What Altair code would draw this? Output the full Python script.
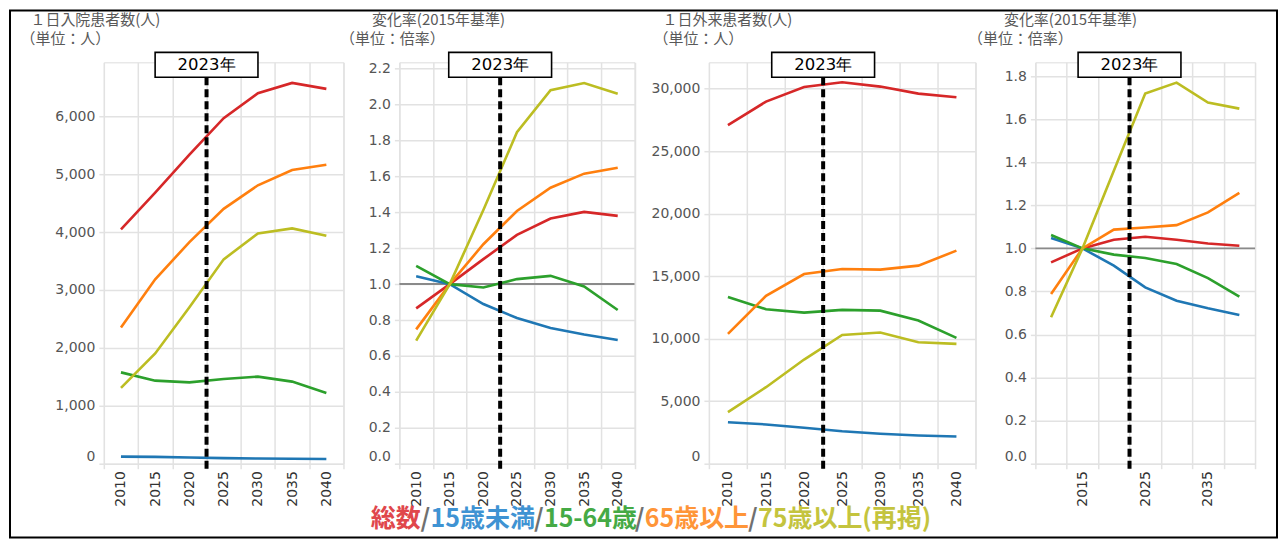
import altair as alt
import pandas as pd

# ---------------- data ----------------
years = [2010, 2015, 2020, 2025, 2030, 2035, 2040]
series_names = ["総数", "15歳未満", "15-64歳", "65歳以上", "75歳以上(再掲)"]
line_colors = ["#d62728", "#1f77b4", "#2ca02c", "#ff7f0e", "#bcbd22"]
legend_colors = ["#e0474c", "#3f93d3", "#45aa45", "#ff9538", "#c4c43e"]
legend_sep = "/"
legend_sep_color = "#707070"

# 1日入院患者数(人)
inp_total = [4045, 4680, 5336, 5966, 6396, 6575, 6472]
inp_u15 = [123, 118, 106, 96, 90, 85, 81]
inp_15_64 = [1577, 1434, 1405, 1463, 1503, 1417, 1222]
inp_65 = [2351, 3184, 3826, 4400, 4807, 5071, 5163]
inp_75 = [1308, 1904, 2700, 3528, 3976, 4062, 3935]

# 変化率(2015年基準) 入院
inp_r_total = [0.865, 1.0, 1.139, 1.274, 1.365, 1.402, 1.380]
inp_r_u15 = [1.044, 1.0, 0.889, 0.811, 0.756, 0.719, 0.689]
inp_r_15_64 = [1.102, 1.0, 0.981, 1.028, 1.046, 0.987, 0.856]
inp_r_65 = [0.748, 1.0, 1.222, 1.407, 1.537, 1.615, 1.648]
inp_r_75 = [0.685, 1.0, 1.413, 1.846, 2.080, 2.120, 2.060]

# 1日外来患者数(人)
out_total = [27070, 28960, 30130, 30510, 30160, 29600, 29310]
out_u15 = [3320, 3140, 2870, 2600, 2400, 2260, 2180]
out_15_64 = [13340, 12350, 12080, 12300, 12240, 11450, 10060]
out_65 = [10380, 13420, 15170, 15570, 15520, 15840, 17040]
out_75 = [4120, 6120, 8330, 10300, 10490, 9710, 9580]

# 変化率(2015年基準) 外来
out_r_total = [0.935, 1.0, 1.040, 1.054, 1.040, 1.023, 1.012]
out_r_u15 = [1.048, 1.0, 0.920, 0.819, 0.757, 0.722, 0.691]
out_r_15_64 = [1.062, 1.0, 0.971, 0.955, 0.927, 0.862, 0.776]
out_r_65 = [0.788, 1.0, 1.087, 1.097, 1.108, 1.167, 1.258]
out_r_75 = [0.680, 1.0, 1.360, 1.719, 1.770, 1.677, 1.649]

# axes
ticks_inp = [0, 1000, 2000, 3000, 4000, 5000, 6000]
ticks_out = [0, 5000, 10000, 15000, 20000, 25000, 30000]
ticks_r_inp = [0.0, 0.2, 0.4, 0.6, 0.8, 1.0, 1.2, 1.4, 1.6, 1.8, 2.0, 2.2]
ticks_r_out = [0.0, 0.2, 0.4, 0.6, 0.8, 1.0, 1.2, 1.4, 1.6, 1.8]
labels_full = years
labels_thin = [2015, 2025, 2035]
ref_value = 1.0
marker_x = 2022.5
marker_label = "2023年"

titles = ["１日入院患者数(人)", "変化率(2015年基準)", "１日外来患者数(人)", "変化率(2015年基準)"]
subtitles = ["（単位：人）", "（単位：倍率）", "（単位：人）", "（単位：倍率）"]

# ---------------- style / layout ----------------
GRID = "#e2e2e2"
TFONT = "Noto Sans CJK JP"
NFONT = "DejaVu Sans"
TFS = 15
H = 402
WIDTHS = [240, 235.5, 267, 220]
GAPS = [55.5, 74, 60]
band_edges = [y - 2.5 for y in years] + [years[-1] + 2.5]
x_lo, x_hi = band_edges[0], band_edges[-1]

# outer frame, relative to the first plot's top-left corner
FRAME_L, FRAME_R = -94, 1175
FRAME_T, FRAME_B = -52, 476
LEG_FS = 25
LEG_Y = FRAME_B - 19
LEG_CENTER = 547


def long_df(series_lists):
    rows = []
    for name, vals in zip(series_names, series_lists):
        for yr, v in zip(years, vals):
            rows.append({"year": yr, "value": v, "series": name})
    return pd.DataFrame(rows)


def em_width(s):
    w = 0.0
    for ch in s:
        if ord(ch) >= 0x2E80:
            w += 1.0
        elif ch.isdigit():
            w += 0.57
        elif ch in "()":
            w += 0.36
        elif ch == "-":
            w += 0.36
        elif ch == "/":
            w += 0.40
        else:
            w += 0.5
    return w


def legend_layers():
    pieces = []
    for i, (name, col) in enumerate(zip(series_names, legend_colors)):
        if i > 0:
            pieces.append((legend_sep, legend_sep_color))
        pieces.append((name, col))
    rows = []
    pos = 0.0
    for text, col in pieces:
        rows.append({"text": text, "start": pos, "color": col})
        pos += em_width(text)
    ldf = pd.DataFrame(rows)
    lo = pos / 2 - (LEG_CENTER - FRAME_L) / LEG_FS
    hi = lo + (FRAME_R - FRAME_L) / LEG_FS
    frame = alt.Chart(pd.DataFrame({"a": [0]})).mark_rect(
        fillOpacity=0, stroke="black", strokeWidth=2
    ).encode(x=alt.value(FRAME_L), x2=alt.value(FRAME_R),
             y=alt.value(FRAME_T), y2=alt.value(FRAME_B))
    text = alt.Chart(ldf).mark_text(
        align="left", baseline="middle", font=TFONT, fontSize=LEG_FS, fontWeight="bold"
    ).encode(
        x=alt.X("start:Q", scale=alt.Scale(domain=[lo, hi], range=[FRAME_L, FRAME_R],
                                           nice=False, zero=False), axis=None),
        y=alt.value(LEG_Y),
        text="text:N",
        color=alt.Color("color:N", scale=None),
    )
    return frame, text


def make_panel(series_lists, y_max, y_ticks, y_fmt, width, title, subtitle,
               title_dx, sub_dx, x_labels, ref=None, extra_front=(), extra_back=()):
    xs = alt.Scale(domain=[x_lo, x_hi], nice=False, zero=False)
    ys = alt.Scale(domain=[0, y_max], nice=False, zero=True)
    y_axis = alt.Axis(
        values=y_ticks, format=y_fmt, grid=True, gridColor=GRID, gridWidth=1.5,
        ticks=True, tickColor=GRID, tickSize=5, tickWidth=1.5, domain=False,
        labelPadding=4, labelFont=NFONT, labelFontSize=14, labelColor="#555555",
        labelFlush=True, title=subtitle, titleX=sub_dx, titleY=-24, titleAngle=0,
        titleAlign="left", titleBaseline="middle", titleFont=TFONT,
        titleFontSize=TFS, titleFontWeight="normal", titleColor="#595959")
    df = long_df(series_lists)
    layers = list(extra_back)
    if ref is not None:
        layers.append(
            alt.Chart(pd.DataFrame({"value": [ref]}))
            .mark_rule(color="#8a8a8a", strokeWidth=2)
            .encode(y=alt.Y("value:Q", scale=ys, axis=y_axis))
        )
    lines = alt.Chart(df).mark_line(strokeWidth=2.6).encode(
        x=alt.X("year:Q", scale=xs, axis=alt.Axis(
            orient="bottom", values=x_labels, format="d", grid=False, ticks=False,
            domain=False, labelAngle=-90, labelPadding=7, labelFont=NFONT,
            labelFontSize=14, labelColor="#333333", labelFlush=False,
            labelOverlap=False, title=None)),
        y=alt.Y("value:Q", scale=ys, axis=y_axis),
        color=alt.Color("series:N", scale=alt.Scale(domain=series_names, range=line_colors),
                        legend=None),
    )
    layers.append(lines)
    mdf = pd.DataFrame({"x": [marker_x], "label": [marker_label]})
    dashed = alt.Chart(mdf).mark_rule(strokeDash=[8, 4], strokeWidth=4, color="black").encode(
        x=alt.X("x:Q", scale=xs, axis=alt.Axis(
            orient="bottom", values=band_edges, labels=False, grid=True, gridColor=GRID,
            gridWidth=1.5, ticks=True, tickColor=GRID, tickSize=5, tickWidth=1.5,
            domain=False, title=title, titleX=title_dx, titleY=-(H + 43), titleAngle=0,
            titleAlign="left", titleBaseline="middle", titleFont=TFONT, titleFontSize=TFS,
            titleFontWeight="normal", titleColor="#595959")),
        y=alt.value(15),
        y2=alt.value(H + 5),
    )
    layers.append(dashed)
    box = alt.Chart(mdf).mark_point(
        shape="M-1,-0.2427L1,-0.2427L1,0.2427L-1,0.2427Z", size=103 * 103,
        filled=True, fill="white", stroke="black", strokeWidth=1.6, opacity=1,
    ).encode(x=alt.X("x:Q", scale=xs, axis=None), y=alt.value(2.5))
    layers.append(box)
    txt = alt.Chart(mdf).mark_text(
        font=NFONT, fontSize=16.5, color="black", baseline="middle", align="center"
    ).encode(x=alt.X("x:Q", scale=xs, axis=None), y=alt.value(3), text="label:N")
    layers.append(txt)
    layers.extend(extra_front)
    return (alt.layer(*layers)
            .resolve_axis(x="independent")
            .resolve_scale(x="independent")
            .properties(width=width, height=H))


def spacer(w):
    return alt.Chart(pd.DataFrame({"a": [0]})).mark_point(opacity=0).properties(
        width=w, height=H, view=alt.ViewBackground(stroke="transparent"))


frame_layer, legend_layer = legend_layers()

p1 = make_panel([inp_total, inp_u15, inp_15_64, inp_65, inp_75], 6930, ticks_inp, ",d",
                WIDTHS[0], titles[0], subtitles[0], -74, -84, labels_full,
                extra_back=[frame_layer], extra_front=[legend_layer])
p2 = make_panel([inp_r_total, inp_r_u15, inp_r_15_64, inp_r_65, inp_r_75], 2.235, ticks_r_inp,
                ".1f", WIDTHS[1], titles[1], subtitles[1], -28, -60, labels_full, ref=ref_value)
p3 = make_panel([out_total, out_u15, out_15_64, out_65, out_75], 32100, ticks_out, ",d",
                WIDTHS[2], titles[2], subtitles[2], -47, -56, labels_full)
p4 = make_panel([out_r_total, out_r_u15, out_r_15_64, out_r_65, out_r_75], 1.864, ticks_r_out,
                ".1f", WIDTHS[3], titles[3], subtitles[3], -32, -68, labels_thin, ref=ref_value)

chart = alt.hconcat(
    p1, spacer(GAPS[0]), p2, spacer(GAPS[1]), p3, spacer(GAPS[2]), p4,
    spacing=0, bounds="flush"
).properties(padding=0).configure_view(stroke=GRID, strokeWidth=1.5).configure(font=NFONT)

chart.save("out.html", embed_options={"renderer": "svg", "actions": False})
